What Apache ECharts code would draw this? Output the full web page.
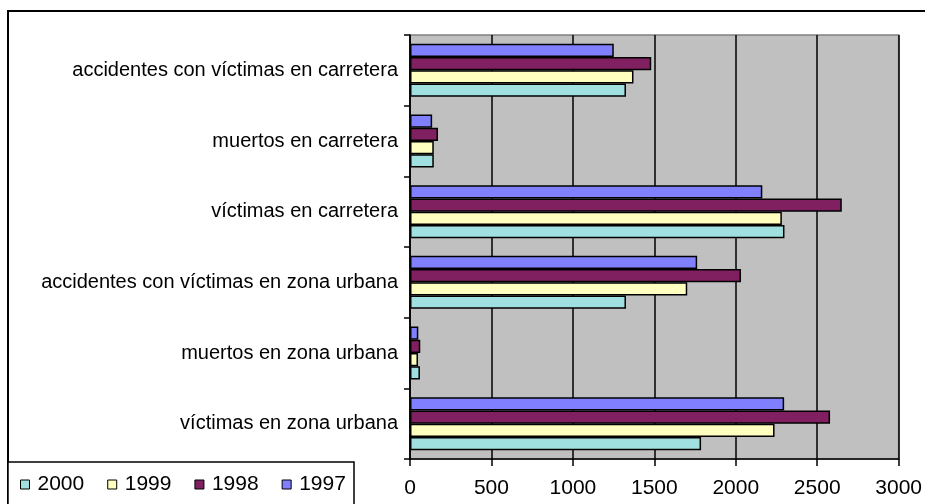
<!DOCTYPE html>
<html>
<head>
<meta charset="utf-8">
<script src="https://cdn.jsdelivr.net/npm/echarts@6/dist/echarts.min.js"></script>
<style>
	html, body { margin: 0; padding: 0; background: #fff; }
	#main { width: 925px; height: 504px; }
</style>
</head>
<body>
<div id="main"></div>
<script>
/* global echarts */

// categories, bottom to top as ECharts lays them out
var categories = [
	'víctimas en zona urbana',
	'muertos en zona urbana',
	'accidentes con víctimas en zona urbana',
	'víctimas en carretera',
	'muertos en carretera',
	'accidentes con víctimas en carretera'
]

// legend order
var years = ['2000', '1999', '1998', '1997']

var v2000 = [1787, 61, 1326, 2299, 146, 1326]
var v1999 = [2238, 49, 1702, 2283, 146, 1372]
var v1998 = [2579, 63, 2032, 2651, 172, 1481]
var v1997 = [2297, 51, 1763, 2163, 136, 1251]

var xTicks = [0, 500, 1000, 1500, 2000, 2500, 3000]

var colors = ['#a0e0e0', '#ffffc0', '#802060', '#8080ff']
var values = [v2000, v1999, v1998, v1997]

var font = "'Liberation Sans', Arial, sans-serif"

var app = (function(){
	var chart = echarts.init(document.getElementById('main'))

	// first series is drawn at the top of each band, so 1997 goes first
	function makeSeries(){
		var out = years.map(function(y, i){
			return {
				name: y,
				type: 'bar',
				data: values[i],
				barGap: '0%',
				barCategoryGap: '25%',
				itemStyle: {
					color: colors[i],
					borderColor: '#000',
					borderWidth: 1.5
				},
				emphasis: { disabled: true }
			}
		})
		return out.reverse()
	}

	chart.setOption({
		animation: false,
		backgroundColor: '#fff',
		textStyle: { fontFamily: font, color: '#000' },
		graphic: [
			{
				type: 'rect',
				shape: { x: 8, y: 11, width: 940, height: 520 },
				style: { fill: null, stroke: '#000', lineWidth: 2 },
				z: -10
			},
			{
				type: 'rect',
				shape: { x: 8, y: 462, width: 346, height: 60 },
				style: { fill: '#fff', stroke: '#000', lineWidth: 1.5 },
				z: 0
			}
		],
		grid: {
			left: 410,
			top: 35,
			right: 21,
			bottom: 45,
			show: true,
			backgroundColor: '#c0c0c0',
			borderColor: '#808080',
			borderWidth: 1.5
		},
		legend: {
			data: years,
			left: 20,
			top: 474,
			icon: 'rect',
			itemWidth: 9,
			itemHeight: 9,
			itemGap: 23,
			padding: 0,
			z: 5,
			itemStyle: { borderColor: '#000', borderWidth: 1 },
			textStyle: { fontFamily: font, fontSize: 21, color: '#000', padding: [0, 0, 0, 3] }
		},
		xAxis: {
			type: 'value',
			min: xTicks[0],
			max: xTicks[xTicks.length - 1],
			interval: xTicks[1] - xTicks[0],
			axisLine: { show: true, lineStyle: { color: '#000', width: 1.5 } },
			axisTick: { show: true, length: 7, lineStyle: { color: '#000', width: 1.5 } },
			axisLabel: {
				fontFamily: font, fontSize: 21, color: '#000', margin: 19,
				formatter: function(v){ return String(v) }
			},
			splitLine: { show: true, lineStyle: { color: '#000', width: 1.5 } }
		},
		yAxis: {
			type: 'category',
			data: categories,
			axisLine: { show: true, lineStyle: { color: '#000', width: 1.5 } },
			axisTick: { show: true, length: 6, lineStyle: { color: '#000', width: 1.5 } },
			axisLabel: { fontFamily: font, fontSize: 20, color: '#000', margin: 12 },
			splitLine: { show: false }
		},
		series: makeSeries()
	})

	return { chart: chart }
})()
</script>
</body>
</html>
